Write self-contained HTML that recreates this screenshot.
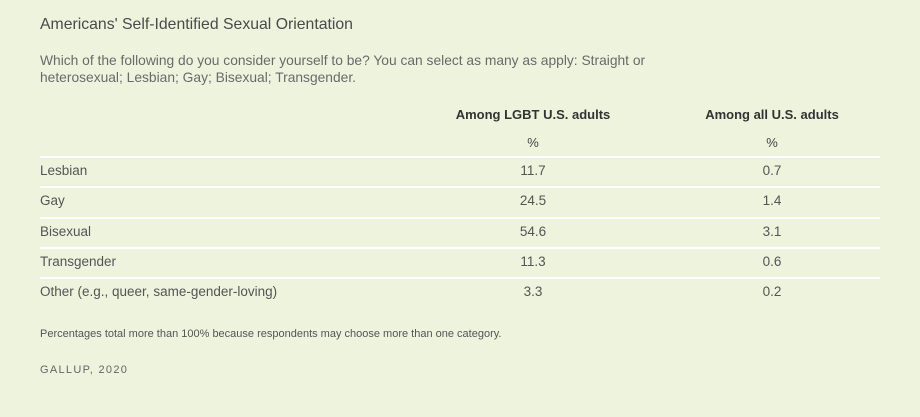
<!DOCTYPE html>
<html><head><meta charset="utf-8"><style>
body{margin:0;width:920px;height:417px;background:#edf3dd;font-family:"Liberation Sans",sans-serif;position:relative;overflow:hidden}
div{position:absolute;white-space:nowrap}
.t{left:40px;top:16px;font-size:15.8px;color:#4a4a4a}
.s{left:40px;top:52px;font-size:13.8px;color:#6a6a6a;line-height:17px}
.h{top:107px;font-size:13px;font-weight:bold;color:#333;transform:translateX(-50%)}
.p{top:135px;font-size:13px;color:#444;transform:translateX(-50%)}
.line{left:40px;width:840px;height:2px;background:#fff}
.l{left:40px;font-size:13.5px;color:#555}
.v{font-size:13.5px;color:#555;transform:translateX(-50%)}
.f{left:40px;top:328px;font-size:11px;color:#555}
.g{left:40px;top:364px;font-size:11px;color:#666;letter-spacing:1.3px}
</style></head><body>
<div class="t">Americans' Self-Identified Sexual Orientation</div>
<div class="s">Which of the following do you consider yourself to be? You can select as many as apply: Straight or<br>heterosexual; Lesbian; Gay; Bisexual; Transgender.</div>
<div class="h" style="left:533px">Among LGBT U.S. adults</div>
<div class="h" style="left:772px">Among all U.S. adults</div>
<div class="p" style="left:533px">%</div>
<div class="p" style="left:772px">%</div>
<div class="f">Percentages total more than 100% because respondents may choose more than one category.</div>
<div class="g">GALLUP, 2020</div>
<script>
const categories=["Lesbian","Gay","Bisexual","Transgender","Other (e.g., queer, same-gender-loving)"];
const lgbtValues=[11.7,24.5,54.6,11.3,3.3];
const allValues=[0.7,1.4,3.1,0.6,0.2];
const body=document.body;
categories.forEach((c,i)=>{
  const y=156+i*30.3;
  const ln=document.createElement('div');ln.className='line';ln.style.top=y+'px';
  
  
  body.appendChild(ln);
  const ty=y+7;
  const l=document.createElement('div');l.className='l';l.style.top=ty+'px';l.textContent=c;
  
  
  body.appendChild(l);
  const a=document.createElement('div');a.className='v';a.style.top=ty+'px';a.style.left='533px';a.textContent=lgbtValues[i].toFixed(1);
  
  
  body.appendChild(a);
  const b=document.createElement('div');b.className='v';b.style.top=ty+'px';b.style.left='772px';b.textContent=allValues[i].toFixed(1);
  
  
  body.appendChild(b);
});
</script>
</body></html>
